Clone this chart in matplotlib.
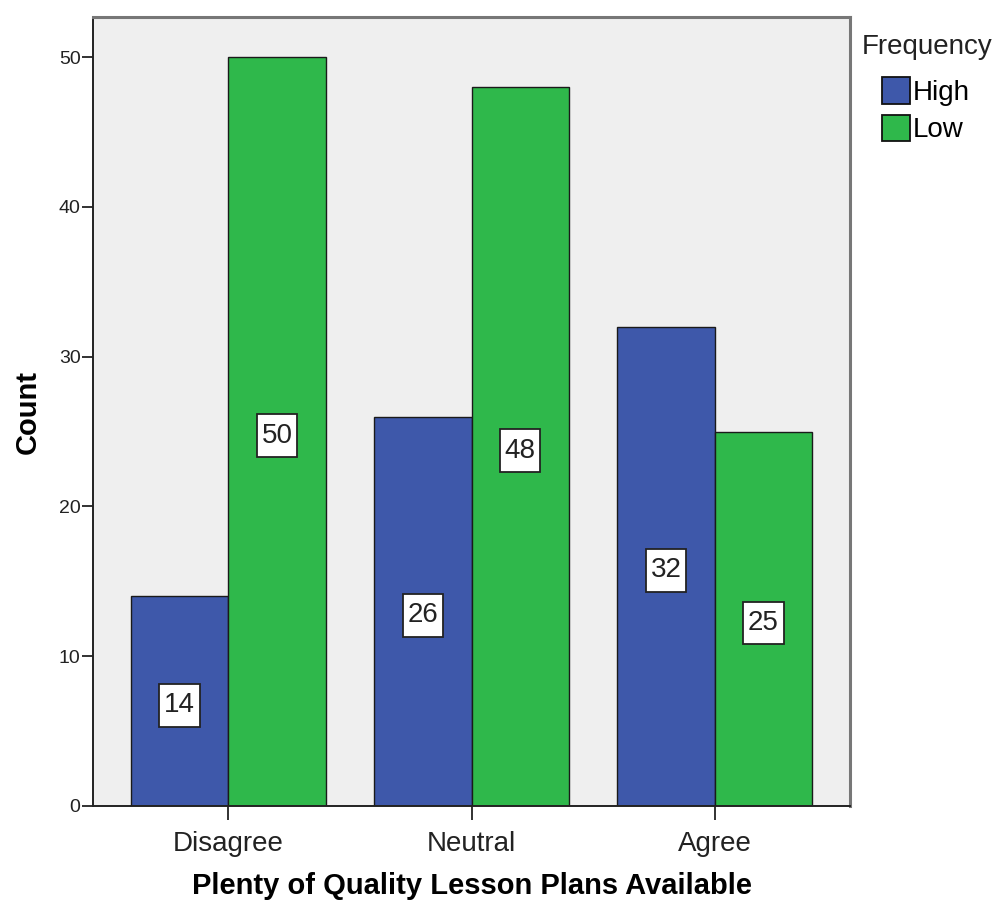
import matplotlib
matplotlib.use("Agg")
import matplotlib.pyplot as plt
from matplotlib.patches import Patch
from matplotlib.path import Path
import numpy as np

plt.rcParams['font.family'] = ['Liberation Sans', 'DejaVu Sans']

categories = ["Disagree", "Neutral", "Agree"]
series_names = ["High", "Low"]
high_counts = [14, 26, 32]
low_counts = [50, 48, 25]
y_ticks = [0, 10, 20, 30, 40, 50]

colors = {"High": "#3E58AA", "Low": "#2FB84B"}


def label_box(x0, y0, width, height, mutation_size):
    """Square box with a little more vertical than horizontal padding."""
    px = 0.17 * mutation_size
    py = 0.30 * mutation_size
    x0, y0 = x0 - px, y0 - py
    x1, y1 = x0 + width + 2 * px, y0 + height + 2 * py
    return Path([(x0, y0), (x1, y0), (x1, y1), (x0, y1), (x0, y0)], closed=True)


fig = plt.figure(figsize=(10, 9.05), dpi=100)
ax = fig.add_axes([0.093, 0.1094, 0.757, 0.8718])
ax.set_facecolor("#EFEFEF")

x = np.arange(len(categories))
w = 0.4
bars_high = ax.bar(x - w / 2, high_counts, width=w, color=colors["High"],
                   edgecolor="#1a1a1a", linewidth=1.0, zorder=2)
bars_low = ax.bar(x + w / 2, low_counts, width=w, color=colors["Low"],
                  edgecolor="#1a1a1a", linewidth=1.0, zorder=2)

for bars, vals in ((bars_high, high_counts), (bars_low, low_counts)):
    for b, v in zip(bars, vals):
        ax.annotate(str(v), (b.get_x() + b.get_width() / 2, v / 2),
                    xytext=(0, -3), textcoords="offset points",
                    ha="center", va="center", fontsize=20, color="#222222",
                    zorder=3,
                    bbox=dict(boxstyle=label_box, facecolor="white",
                              edgecolor="#222222", linewidth=1.3))

ax.set_xlim(-0.556, 2.556)
ax.set_ylim(0, 52.67)
ax.set_xticks(x)
ax.set_xticklabels(categories, fontsize=20, color="#222222")
ax.set_yticks(y_ticks)
ax.set_yticklabels([str(t) for t in y_ticks], fontsize=14, color="#222222")
ax.tick_params(axis="y", direction="out", length=8, width=1.3, pad=1,
               color="#222222")
ax.tick_params(axis="x", direction="out", length=10, width=1.3, pad=8,
               color="#222222")

ax.set_ylabel("Count", fontsize=21, fontweight="bold", labelpad=12)
ax.set_xlabel("Plenty of Quality Lesson Plans Available", fontsize=21,
              fontweight="bold", labelpad=11)

for side in ("left", "bottom"):
    ax.spines[side].set_color("#222222")
    ax.spines[side].set_linewidth(1.4)
for side in ("top", "right"):
    ax.spines[side].set_color("#777777")
    ax.spines[side].set_linewidth(2.2)

# Legend: title sits left of the indented entries
fig.text(0.862, 1 - 47 / 905, "Frequency", fontsize=20, color="#222222",
         ha="left", va="center")
handles = [Patch(facecolor=colors[n], edgecolor="#111111", linewidth=1.3)
           for n in series_names]
leg = fig.legend(handles, series_names, loc="upper left",
                 bbox_to_anchor=(0.882, 1 - 77 / 905),
                 frameon=False, fontsize=20,
                 handlelength=1.0, handleheight=1.1, handletextpad=0.12,
                 labelspacing=0.32, borderaxespad=0.0, borderpad=0.0)

fig.savefig("out.png", dpi=100, facecolor="white")
